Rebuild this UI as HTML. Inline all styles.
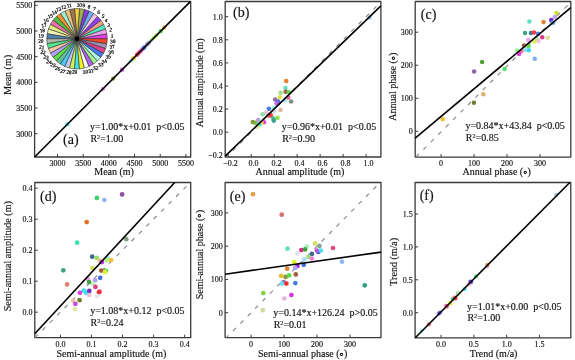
<!DOCTYPE html><html><head><meta charset="utf-8"><style>html,body{margin:0;padding:0;background:#fff;}svg{display:block;filter:blur(0.3px);}text{font-family:"Liberation Serif",serif;fill:#111;stroke:#111;stroke-width:0.15px;}</style></head><body>
<svg width="575" height="360" viewBox="0 0 575 360">
<rect x="34.6" y="1.5" width="156.10" height="155.50" fill="none" stroke="#3a3a3a" stroke-width="1.3" stroke-linejoin="round"/>
<line x1="57.50" y1="157.0" x2="57.50" y2="154.0" stroke="#3a3a3a" stroke-width="1"/>
<text x="57.50" y="165.50" font-size="8" text-anchor="middle">3000</text>
<line x1="83.18" y1="157.0" x2="83.18" y2="154.0" stroke="#3a3a3a" stroke-width="1"/>
<text x="83.18" y="165.50" font-size="8" text-anchor="middle">3500</text>
<line x1="108.86" y1="157.0" x2="108.86" y2="154.0" stroke="#3a3a3a" stroke-width="1"/>
<text x="108.86" y="165.50" font-size="8" text-anchor="middle">4000</text>
<line x1="134.54" y1="157.0" x2="134.54" y2="154.0" stroke="#3a3a3a" stroke-width="1"/>
<text x="134.54" y="165.50" font-size="8" text-anchor="middle">4500</text>
<line x1="160.22" y1="157.0" x2="160.22" y2="154.0" stroke="#3a3a3a" stroke-width="1"/>
<text x="160.22" y="165.50" font-size="8" text-anchor="middle">5000</text>
<line x1="185.90" y1="157.0" x2="185.90" y2="154.0" stroke="#3a3a3a" stroke-width="1"/>
<text x="185.90" y="165.50" font-size="8" text-anchor="middle">5500</text>
<line x1="34.6" y1="133.70" x2="37.6" y2="133.70" stroke="#3a3a3a" stroke-width="1"/>
<text x="32.20" y="136.60" font-size="8" text-anchor="end">3000</text>
<line x1="34.6" y1="108.02" x2="37.6" y2="108.02" stroke="#3a3a3a" stroke-width="1"/>
<text x="32.20" y="110.92" font-size="8" text-anchor="end">3500</text>
<line x1="34.6" y1="82.34" x2="37.6" y2="82.34" stroke="#3a3a3a" stroke-width="1"/>
<text x="32.20" y="85.24" font-size="8" text-anchor="end">4000</text>
<line x1="34.6" y1="56.66" x2="37.6" y2="56.66" stroke="#3a3a3a" stroke-width="1"/>
<text x="32.20" y="59.56" font-size="8" text-anchor="end">4500</text>
<line x1="34.6" y1="30.98" x2="37.6" y2="30.98" stroke="#3a3a3a" stroke-width="1"/>
<text x="32.20" y="33.88" font-size="8" text-anchor="end">5000</text>
<line x1="34.6" y1="5.30" x2="37.6" y2="5.30" stroke="#3a3a3a" stroke-width="1"/>
<text x="32.20" y="8.20" font-size="8" text-anchor="end">5500</text>
<rect x="225.2" y="1.5" width="155.70" height="155.50" fill="none" stroke="#3a3a3a" stroke-width="1.3" stroke-linejoin="round"/>
<line x1="228.22" y1="157.0" x2="228.22" y2="154.0" stroke="#3a3a3a" stroke-width="1"/>
<text x="230.52" y="165.50" font-size="8" text-anchor="middle">−0.2</text>
<line x1="251.20" y1="157.0" x2="251.20" y2="154.0" stroke="#3a3a3a" stroke-width="1"/>
<text x="253.50" y="165.50" font-size="8" text-anchor="middle">0.0</text>
<line x1="274.18" y1="157.0" x2="274.18" y2="154.0" stroke="#3a3a3a" stroke-width="1"/>
<text x="276.48" y="165.50" font-size="8" text-anchor="middle">0.2</text>
<line x1="297.16" y1="157.0" x2="297.16" y2="154.0" stroke="#3a3a3a" stroke-width="1"/>
<text x="299.46" y="165.50" font-size="8" text-anchor="middle">0.4</text>
<line x1="320.14" y1="157.0" x2="320.14" y2="154.0" stroke="#3a3a3a" stroke-width="1"/>
<text x="322.44" y="165.50" font-size="8" text-anchor="middle">0.6</text>
<line x1="343.12" y1="157.0" x2="343.12" y2="154.0" stroke="#3a3a3a" stroke-width="1"/>
<text x="345.42" y="165.50" font-size="8" text-anchor="middle">0.8</text>
<line x1="366.10" y1="157.0" x2="366.10" y2="154.0" stroke="#3a3a3a" stroke-width="1"/>
<text x="368.40" y="165.50" font-size="8" text-anchor="middle">1.0</text>
<line x1="225.2" y1="155.30" x2="228.2" y2="155.30" stroke="#3a3a3a" stroke-width="1"/>
<text x="222.80" y="158.20" font-size="8" text-anchor="end">−0.2</text>
<line x1="225.2" y1="132.20" x2="228.2" y2="132.20" stroke="#3a3a3a" stroke-width="1"/>
<text x="222.80" y="135.10" font-size="8" text-anchor="end">0.0</text>
<line x1="225.2" y1="109.10" x2="228.2" y2="109.10" stroke="#3a3a3a" stroke-width="1"/>
<text x="222.80" y="112.00" font-size="8" text-anchor="end">0.2</text>
<line x1="225.2" y1="86.00" x2="228.2" y2="86.00" stroke="#3a3a3a" stroke-width="1"/>
<text x="222.80" y="88.90" font-size="8" text-anchor="end">0.4</text>
<line x1="225.2" y1="62.90" x2="228.2" y2="62.90" stroke="#3a3a3a" stroke-width="1"/>
<text x="222.80" y="65.80" font-size="8" text-anchor="end">0.6</text>
<line x1="225.2" y1="39.80" x2="228.2" y2="39.80" stroke="#3a3a3a" stroke-width="1"/>
<text x="222.80" y="42.70" font-size="8" text-anchor="end">0.8</text>
<line x1="225.2" y1="16.70" x2="228.2" y2="16.70" stroke="#3a3a3a" stroke-width="1"/>
<text x="222.80" y="19.60" font-size="8" text-anchor="end">1.0</text>
<rect x="415.2" y="1.5" width="155.60" height="155.60" fill="none" stroke="#3a3a3a" stroke-width="1.3" stroke-linejoin="round"/>
<line x1="441.10" y1="157.1" x2="441.10" y2="154.1" stroke="#3a3a3a" stroke-width="1"/>
<text x="441.10" y="165.60" font-size="8" text-anchor="middle">0</text>
<line x1="474.07" y1="157.1" x2="474.07" y2="154.1" stroke="#3a3a3a" stroke-width="1"/>
<text x="474.07" y="165.60" font-size="8" text-anchor="middle">100</text>
<line x1="507.03" y1="157.1" x2="507.03" y2="154.1" stroke="#3a3a3a" stroke-width="1"/>
<text x="507.03" y="165.60" font-size="8" text-anchor="middle">200</text>
<line x1="540.00" y1="157.1" x2="540.00" y2="154.1" stroke="#3a3a3a" stroke-width="1"/>
<text x="540.00" y="165.60" font-size="8" text-anchor="middle">300</text>
<line x1="415.2" y1="131.30" x2="418.2" y2="131.30" stroke="#3a3a3a" stroke-width="1"/>
<text x="412.80" y="134.20" font-size="8" text-anchor="end">0</text>
<line x1="415.2" y1="98.27" x2="418.2" y2="98.27" stroke="#3a3a3a" stroke-width="1"/>
<text x="412.80" y="101.17" font-size="8" text-anchor="end">100</text>
<line x1="415.2" y1="65.23" x2="418.2" y2="65.23" stroke="#3a3a3a" stroke-width="1"/>
<text x="412.80" y="68.13" font-size="8" text-anchor="end">200</text>
<line x1="415.2" y1="32.20" x2="418.2" y2="32.20" stroke="#3a3a3a" stroke-width="1"/>
<text x="412.80" y="35.10" font-size="8" text-anchor="end">300</text>
<rect x="34.8" y="182.5" width="155.90" height="155.20" fill="none" stroke="#3a3a3a" stroke-width="1.3" stroke-linejoin="round"/>
<line x1="60.40" y1="337.7" x2="60.40" y2="334.7" stroke="#3a3a3a" stroke-width="1"/>
<text x="60.40" y="346.90" font-size="8" text-anchor="middle">0.0</text>
<line x1="91.47" y1="337.7" x2="91.47" y2="334.7" stroke="#3a3a3a" stroke-width="1"/>
<text x="91.47" y="346.90" font-size="8" text-anchor="middle">0.1</text>
<line x1="122.55" y1="337.7" x2="122.55" y2="334.7" stroke="#3a3a3a" stroke-width="1"/>
<text x="122.55" y="346.90" font-size="8" text-anchor="middle">0.2</text>
<line x1="153.62" y1="337.7" x2="153.62" y2="334.7" stroke="#3a3a3a" stroke-width="1"/>
<text x="153.62" y="346.90" font-size="8" text-anchor="middle">0.3</text>
<line x1="184.70" y1="337.7" x2="184.70" y2="334.7" stroke="#3a3a3a" stroke-width="1"/>
<text x="184.70" y="346.90" font-size="8" text-anchor="middle">0.4</text>
<line x1="34.8" y1="312.20" x2="37.8" y2="312.20" stroke="#3a3a3a" stroke-width="1"/>
<text x="32.40" y="315.10" font-size="8" text-anchor="end">0.0</text>
<line x1="34.8" y1="281.20" x2="37.8" y2="281.20" stroke="#3a3a3a" stroke-width="1"/>
<text x="32.40" y="284.10" font-size="8" text-anchor="end">0.1</text>
<line x1="34.8" y1="250.20" x2="37.8" y2="250.20" stroke="#3a3a3a" stroke-width="1"/>
<text x="32.40" y="253.10" font-size="8" text-anchor="end">0.2</text>
<line x1="34.8" y1="219.20" x2="37.8" y2="219.20" stroke="#3a3a3a" stroke-width="1"/>
<text x="32.40" y="222.10" font-size="8" text-anchor="end">0.3</text>
<line x1="34.8" y1="188.20" x2="37.8" y2="188.20" stroke="#3a3a3a" stroke-width="1"/>
<text x="32.40" y="191.10" font-size="8" text-anchor="end">0.4</text>
<rect x="225.1" y="182.5" width="155.90" height="155.10" fill="none" stroke="#3a3a3a" stroke-width="1.3" stroke-linejoin="round"/>
<line x1="251.10" y1="337.6" x2="251.10" y2="334.6" stroke="#3a3a3a" stroke-width="1"/>
<text x="251.10" y="346.80" font-size="8" text-anchor="middle">0</text>
<line x1="284.07" y1="337.6" x2="284.07" y2="334.6" stroke="#3a3a3a" stroke-width="1"/>
<text x="284.07" y="346.80" font-size="8" text-anchor="middle">100</text>
<line x1="317.03" y1="337.6" x2="317.03" y2="334.6" stroke="#3a3a3a" stroke-width="1"/>
<text x="317.03" y="346.80" font-size="8" text-anchor="middle">200</text>
<line x1="350.00" y1="337.6" x2="350.00" y2="334.6" stroke="#3a3a3a" stroke-width="1"/>
<text x="350.00" y="346.80" font-size="8" text-anchor="middle">300</text>
<line x1="225.1" y1="312.70" x2="228.1" y2="312.70" stroke="#3a3a3a" stroke-width="1"/>
<text x="222.70" y="315.60" font-size="8" text-anchor="end">0</text>
<line x1="225.1" y1="279.43" x2="228.1" y2="279.43" stroke="#3a3a3a" stroke-width="1"/>
<text x="222.70" y="282.33" font-size="8" text-anchor="end">100</text>
<line x1="225.1" y1="246.17" x2="228.1" y2="246.17" stroke="#3a3a3a" stroke-width="1"/>
<text x="222.70" y="249.07" font-size="8" text-anchor="end">200</text>
<line x1="225.1" y1="212.90" x2="228.1" y2="212.90" stroke="#3a3a3a" stroke-width="1"/>
<text x="222.70" y="215.80" font-size="8" text-anchor="end">300</text>
<rect x="415.1" y="182.5" width="155.70" height="155.30" fill="none" stroke="#3a3a3a" stroke-width="1.3" stroke-linejoin="round"/>
<line x1="441.10" y1="337.8" x2="441.10" y2="334.8" stroke="#3a3a3a" stroke-width="1"/>
<text x="441.10" y="347.00" font-size="8" text-anchor="middle">0.0</text>
<line x1="473.87" y1="337.8" x2="473.87" y2="334.8" stroke="#3a3a3a" stroke-width="1"/>
<text x="473.87" y="347.00" font-size="8" text-anchor="middle">0.5</text>
<line x1="506.63" y1="337.8" x2="506.63" y2="334.8" stroke="#3a3a3a" stroke-width="1"/>
<text x="506.63" y="347.00" font-size="8" text-anchor="middle">1.0</text>
<line x1="539.40" y1="337.8" x2="539.40" y2="334.8" stroke="#3a3a3a" stroke-width="1"/>
<text x="539.40" y="347.00" font-size="8" text-anchor="middle">1.5</text>
<line x1="415.1" y1="312.70" x2="418.1" y2="312.70" stroke="#3a3a3a" stroke-width="1"/>
<text x="412.70" y="315.60" font-size="8" text-anchor="end">0.0</text>
<line x1="415.1" y1="279.80" x2="418.1" y2="279.80" stroke="#3a3a3a" stroke-width="1"/>
<text x="412.70" y="282.70" font-size="8" text-anchor="end">0.5</text>
<line x1="415.1" y1="246.90" x2="418.1" y2="246.90" stroke="#3a3a3a" stroke-width="1"/>
<text x="412.70" y="249.80" font-size="8" text-anchor="end">1.0</text>
<line x1="415.1" y1="214.00" x2="418.1" y2="214.00" stroke="#3a3a3a" stroke-width="1"/>
<text x="412.70" y="216.90" font-size="8" text-anchor="end">1.5</text>
<g stroke="#222" stroke-width="0.55" stroke-linejoin="round">
<path d="M77.0,38.75 L107.20,38.75 A30.2,30.2 0 0 0 106.79,33.78 Z" fill="#e040e8"/>
<path d="M77.0,38.75 L106.79,33.78 A30.2,30.2 0 0 0 105.56,28.94 Z" fill="#f0a0f0"/>
<path d="M77.0,38.75 L105.56,28.94 A30.2,30.2 0 0 0 103.56,24.38 Z" fill="#50e8c0"/>
<path d="M77.0,38.75 L103.56,24.38 A30.2,30.2 0 0 0 100.83,20.20 Z" fill="#f0a080"/>
<path d="M77.0,38.75 L100.83,20.20 A30.2,30.2 0 0 0 97.45,16.53 Z" fill="#9040f0"/>
<path d="M77.0,38.75 L97.45,16.53 A30.2,30.2 0 0 0 93.52,13.47 Z" fill="#f8c8e8"/>
<path d="M77.0,38.75 L93.52,13.47 A30.2,30.2 0 0 0 89.13,11.09 Z" fill="#70b0f0"/>
<path d="M77.0,38.75 L89.13,11.09 A30.2,30.2 0 0 0 84.41,9.47 Z" fill="#8040e0"/>
<path d="M77.0,38.75 L84.41,9.47 A30.2,30.2 0 0 0 79.49,8.65 Z" fill="#a0b050"/>
<path d="M77.0,38.75 L79.49,8.65 A30.2,30.2 0 0 0 74.51,8.65 Z" fill="#f5d040"/>
<path d="M77.0,38.75 L74.51,8.65 A30.2,30.2 0 0 0 69.59,9.47 Z" fill="#a07850"/>
<path d="M77.0,38.75 L69.59,9.47 A30.2,30.2 0 0 0 64.87,11.09 Z" fill="#f0c080"/>
<path d="M77.0,38.75 L64.87,11.09 A30.2,30.2 0 0 0 60.48,13.47 Z" fill="#a0f0d0"/>
<path d="M77.0,38.75 L60.48,13.47 A30.2,30.2 0 0 0 56.55,16.53 Z" fill="#f09030"/>
<path d="M77.0,38.75 L56.55,16.53 A30.2,30.2 0 0 0 53.17,20.20 Z" fill="#50c040"/>
<path d="M77.0,38.75 L53.17,20.20 A30.2,30.2 0 0 0 50.44,24.38 Z" fill="#f070b0"/>
<path d="M77.0,38.75 L50.44,24.38 A30.2,30.2 0 0 0 48.44,28.94 Z" fill="#e0f080"/>
<path d="M77.0,38.75 L48.44,28.94 A30.2,30.2 0 0 0 47.21,33.78 Z" fill="#f0f0b0"/>
<path d="M77.0,38.75 L47.21,33.78 A30.2,30.2 0 0 0 46.80,38.75 Z" fill="#5080b0"/>
<path d="M77.0,38.75 L46.80,38.75 A30.2,30.2 0 0 0 47.21,43.72 Z" fill="#b0b8a8"/>
<path d="M77.0,38.75 L47.21,43.72 A30.2,30.2 0 0 0 48.44,48.56 Z" fill="#50e890"/>
<path d="M77.0,38.75 L48.44,48.56 A30.2,30.2 0 0 0 50.44,53.12 Z" fill="#f8c8a0"/>
<path d="M77.0,38.75 L50.44,53.12 A30.2,30.2 0 0 0 53.17,57.30 Z" fill="#b0a0f8"/>
<path d="M77.0,38.75 L53.17,57.30 A30.2,30.2 0 0 0 56.55,60.97 Z" fill="#60e040"/>
<path d="M77.0,38.75 L56.55,60.97 A30.2,30.2 0 0 0 60.48,64.03 Z" fill="#60c0a0"/>
<path d="M77.0,38.75 L60.48,64.03 A30.2,30.2 0 0 0 64.87,66.41 Z" fill="#50c8f0"/>
<path d="M77.0,38.75 L64.87,66.41 A30.2,30.2 0 0 0 69.59,68.03 Z" fill="#c0c8f8"/>
<path d="M77.0,38.75 L69.59,68.03 A30.2,30.2 0 0 0 74.51,68.85 Z" fill="#d0f050"/>
<path d="M77.0,38.75 L74.51,68.85 A30.2,30.2 0 0 0 79.49,68.85 Z" fill="#40e0f0"/>
<path d="M77.0,38.75 L79.49,68.85 A30.2,30.2 0 0 0 84.41,68.03 Z" fill="#f0f020"/>
<path d="M77.0,38.75 L84.41,68.03 A30.2,30.2 0 0 0 89.13,66.41 Z" fill="#ffffff"/>
<path d="M77.0,38.75 L89.13,66.41 A30.2,30.2 0 0 0 93.52,64.03 Z" fill="#b060f0"/>
<path d="M77.0,38.75 L93.52,64.03 A30.2,30.2 0 0 0 97.45,60.97 Z" fill="#a0f090"/>
<path d="M77.0,38.75 L97.45,60.97 A30.2,30.2 0 0 0 100.83,57.30 Z" fill="#b0f0e0"/>
<path d="M77.0,38.75 L100.83,57.30 A30.2,30.2 0 0 0 103.56,53.12 Z" fill="#4878f0"/>
<path d="M77.0,38.75 L103.56,53.12 A30.2,30.2 0 0 0 105.56,48.56 Z" fill="#e84090"/>
<path d="M77.0,38.75 L105.56,48.56 A30.2,30.2 0 0 0 106.79,43.72 Z" fill="#a090b8"/>
<path d="M77.0,38.75 L106.79,43.72 A30.2,30.2 0 0 0 107.20,38.75 Z" fill="#f04828"/>
</g>
<circle cx="77.0" cy="38.75" r="2.3" fill="#000"/>
<text transform="translate(112,36) rotate(2.3)" y="1.8" font-size="5.2" text-anchor="middle" style="stroke-width:0.25px">1</text>
<text transform="translate(110.8,29.6) rotate(7.6)" y="1.8" font-size="5.2" text-anchor="middle" style="stroke-width:0.25px">2</text>
<text transform="translate(108.7,25.3) rotate(10.8)" y="1.8" font-size="5.2" text-anchor="middle" style="stroke-width:0.25px">3</text>
<text transform="translate(106.3,20.4) rotate(13.5)" y="1.8" font-size="5.2" text-anchor="middle" style="stroke-width:0.25px">4</text>
<text transform="translate(103.3,16) rotate(14.8)" y="1.8" font-size="5.2" text-anchor="middle" style="stroke-width:0.25px">5</text>
<text transform="translate(98.6,12) rotate(14.7)" y="1.8" font-size="5.2" text-anchor="middle" style="stroke-width:0.25px">6</text>
<text transform="translate(94.4,8.9) rotate(13.1)" y="1.8" font-size="5.2" text-anchor="middle" style="stroke-width:0.25px">7</text>
<text transform="translate(89.1,6.7) rotate(9.9)" y="1.8" font-size="5.2" text-anchor="middle" style="stroke-width:0.25px">8</text>
<text transform="translate(83.8,5.3) rotate(5.9)" y="1.8" font-size="5.2" text-anchor="middle" style="stroke-width:0.25px">9</text>
<text transform="translate(79.3,5.0) rotate(2.0)" y="1.8" font-size="5.2" text-anchor="middle" style="stroke-width:0.25px">10</text>
<text transform="translate(69.2,5.5) rotate(-6.7)" y="1.8" font-size="5.2" text-anchor="middle" style="stroke-width:0.25px">11</text>
<text transform="translate(63.7,7.1) rotate(-10.7)" y="1.8" font-size="5.2" text-anchor="middle" style="stroke-width:0.25px">12</text>
<text transform="translate(58.7,9.2) rotate(-13.4)" y="1.8" font-size="5.2" text-anchor="middle" style="stroke-width:0.25px">13</text>
<text transform="translate(54.2,12.4) rotate(-14.8)" y="1.8" font-size="5.2" text-anchor="middle" style="stroke-width:0.25px">14</text>
<text transform="translate(50.2,16) rotate(-14.8)" y="1.8" font-size="5.2" text-anchor="middle" style="stroke-width:0.25px">15</text>
<text transform="translate(46.2,20.4) rotate(-13.2)" y="1.8" font-size="5.2" text-anchor="middle" style="stroke-width:0.25px">16</text>
<text transform="translate(44,25.3) rotate(-10.5)" y="1.8" font-size="5.2" text-anchor="middle" style="stroke-width:0.25px">17</text>
<text transform="translate(42.3,30.5) rotate(-6.8)" y="1.8" font-size="5.2" text-anchor="middle" style="stroke-width:0.25px">18</text>
<text transform="translate(41.1,35.8) rotate(-2.4)" y="1.8" font-size="5.2" text-anchor="middle" style="stroke-width:0.25px">19</text>
<text transform="translate(40.8,40.9) rotate(1.8)" y="1.8" font-size="5.2" text-anchor="middle" style="stroke-width:0.25px">20</text>
<text transform="translate(41.8,47.1) rotate(6.7)" y="1.8" font-size="5.2" text-anchor="middle" style="stroke-width:0.25px">21</text>
<text transform="translate(43.1,52.2) rotate(10.3)" y="1.8" font-size="5.2" text-anchor="middle" style="stroke-width:0.25px">22</text>
<text transform="translate(46.2,57.3) rotate(13.3)" y="1.8" font-size="5.2" text-anchor="middle" style="stroke-width:0.25px">23</text>
<text transform="translate(48.9,61.8) rotate(14.7)" y="1.8" font-size="5.2" text-anchor="middle" style="stroke-width:0.25px">24</text>
<text transform="translate(53.3,64.9) rotate(14.9)" y="1.8" font-size="5.2" text-anchor="middle" style="stroke-width:0.25px">25</text>
<text transform="translate(57.8,68.4) rotate(13.7)" y="1.8" font-size="5.2" text-anchor="middle" style="stroke-width:0.25px">26</text>
<text transform="translate(62.8,71.3) rotate(11.0)" y="1.8" font-size="5.2" text-anchor="middle" style="stroke-width:0.25px">27</text>
<text transform="translate(69.0,72.1) rotate(6.8)" y="1.8" font-size="5.2" text-anchor="middle" style="stroke-width:0.25px">28</text>
<text transform="translate(74.6,71.9) rotate(2.2)" y="1.8" font-size="5.2" text-anchor="middle" style="stroke-width:0.25px">29</text>
<text transform="translate(85.4,71.8) rotate(-7.2)" y="1.8" font-size="5.2" text-anchor="middle" style="stroke-width:0.25px">30</text>
<text transform="translate(90.9,70.8) rotate(-11.0)" y="1.8" font-size="5.2" text-anchor="middle" style="stroke-width:0.25px">31</text>
<text transform="translate(95.6,68.0) rotate(-13.6)" y="1.8" font-size="5.2" text-anchor="middle" style="stroke-width:0.25px">32</text>
<text transform="translate(100.8,64.7) rotate(-14.9)" y="1.8" font-size="5.2" text-anchor="middle" style="stroke-width:0.25px">33</text>
<text transform="translate(104.4,61.3) rotate(-14.7)" y="1.8" font-size="5.2" text-anchor="middle" style="stroke-width:0.25px">34</text>
<text transform="translate(108.4,56.7) rotate(-12.9)" y="1.8" font-size="5.2" text-anchor="middle" style="stroke-width:0.25px">35</text>
<text transform="translate(111.1,52) rotate(-10.1)" y="1.8" font-size="5.2" text-anchor="middle" style="stroke-width:0.25px">36</text>
<text transform="translate(112,46.7) rotate(-6.5)" y="1.8" font-size="5.2" text-anchor="middle" style="stroke-width:0.25px">37</text>
<text transform="translate(112.9,41.3) rotate(-2.1)" y="1.8" font-size="5.2" text-anchor="middle" style="stroke-width:0.25px">38</text>
<line x1="226.5" y1="157.0" x2="380.9" y2="1.9" stroke="#888" stroke-width="1.15" stroke-dasharray="4.3,6.2" stroke-dashoffset="1.7" stroke-linecap="butt"/>
<line x1="415.9" y1="157.0" x2="570.8" y2="2.2" stroke="#888" stroke-width="1.15" stroke-dasharray="4.3,6.2" stroke-linecap="butt"/>
<line x1="34.8" y1="337.7" x2="190.3" y2="182.5" stroke="#888" stroke-width="1.15" stroke-dasharray="4.3,6.2" stroke-linecap="butt"/>
<line x1="226.4" y1="337.6" x2="380.1" y2="182.5" stroke="#888" stroke-width="1.15" stroke-dasharray="4.3,6.2" stroke-dashoffset="1.2" stroke-linecap="butt"/>
<circle cx="67.34" cy="124.34" r="2.2" fill="#40d8f0" fill-opacity="0.9"/>
<circle cx="102.76" cy="88.96" r="2.2" fill="#e890e8" fill-opacity="0.9"/>
<circle cx="113.23" cy="78.43" r="2.2" fill="#90a040" fill-opacity="0.9"/>
<circle cx="122.07" cy="69.67" r="2.2" fill="#e040e0" fill-opacity="0.9"/>
<circle cx="131.48" cy="60.38" r="2.2" fill="#a0f0f0" fill-opacity="0.9"/>
<circle cx="133.39" cy="58.19" r="2.2" fill="#f0a050" fill-opacity="0.9"/>
<circle cx="133.99" cy="57.99" r="2.2" fill="#f0e040" fill-opacity="0.9"/>
<circle cx="136.84" cy="54.84" r="2.2" fill="#f04060" fill-opacity="0.9"/>
<circle cx="138.22" cy="53.43" r="2.2" fill="#f04040" fill-opacity="0.9"/>
<circle cx="139.84" cy="51.84" r="2.2" fill="#e84090" fill-opacity="0.9"/>
<circle cx="141.11" cy="50.51" r="2.2" fill="#f060c0" fill-opacity="0.9"/>
<circle cx="142.97" cy="48.67" r="2.2" fill="#a060e0" fill-opacity="0.9"/>
<circle cx="144.41" cy="47.22" r="2.2" fill="#4070f0" fill-opacity="0.9"/>
<circle cx="147.27" cy="44.27" r="2.2" fill="#9080b0" fill-opacity="0.9"/>
<circle cx="149.07" cy="42.47" r="2.2" fill="#b0a0e0" fill-opacity="0.9"/>
<circle cx="151.27" cy="40.28" r="2.2" fill="#c0f0c0" fill-opacity="0.9"/>
<circle cx="153.86" cy="37.77" r="2.2" fill="#c0f060" fill-opacity="0.9"/>
<circle cx="156.41" cy="35.31" r="2.2" fill="#a0f080" fill-opacity="0.9"/>
<circle cx="160.79" cy="30.99" r="2.2" fill="#40e040" fill-opacity="0.9"/>
<circle cx="164.22" cy="27.52" r="2.2" fill="#f0a050" fill-opacity="0.9"/>
<circle cx="286.2" cy="81.0" r="2.3" fill="#e88030"/>
<circle cx="285.4" cy="88.0" r="2.3" fill="#60e0c0"/>
<circle cx="280.6" cy="92.8" r="2.3" fill="#a0e090"/>
<circle cx="285.7" cy="91.75" r="2.3" fill="#a06040"/>
<circle cx="288.9" cy="92.3" r="2.3" fill="#50e050"/>
<circle cx="279.8" cy="97.2" r="2.3" fill="#e0e050"/>
<circle cx="288.2" cy="97.6" r="2.3" fill="#f060a0"/>
<circle cx="275.2" cy="99.5" r="2.3" fill="#9070a0"/>
<circle cx="285.0" cy="100.3" r="2.3" fill="#a0f0f0"/>
<circle cx="291.1" cy="101.5" r="2.3" fill="#809080"/>
<circle cx="278.1" cy="101.5" r="2.3" fill="#5070e0"/>
<circle cx="276.7" cy="103.4" r="2.3" fill="#c060f0"/>
<circle cx="268.9" cy="108.8" r="2.3" fill="#4080e0"/>
<circle cx="273.6" cy="107.8" r="2.3" fill="#a0f0f0"/>
<circle cx="280.5" cy="110.0" r="2.3" fill="#e0b8a0"/>
<circle cx="274.6" cy="111.3" r="2.3" fill="#d8dcdc"/>
<circle cx="266.3" cy="112.6" r="2.3" fill="#f0c0e0"/>
<circle cx="262.7" cy="114.2" r="2.3" fill="#90e0a0"/>
<circle cx="268.8" cy="115.8" r="2.3" fill="#f07090"/>
<circle cx="270.8" cy="115.4" r="2.3" fill="#f04040"/>
<circle cx="273.3" cy="118.6" r="2.3" fill="#40c090"/>
<circle cx="277.5" cy="117.9" r="2.3" fill="#90e050"/>
<circle cx="273.8" cy="120.6" r="2.3" fill="#40a090"/>
<circle cx="255.4" cy="122.7" r="2.3" fill="#70c040"/>
<circle cx="252.8" cy="122.0" r="2.3" fill="#8a9a3a"/>
<circle cx="258.2" cy="120.0" r="2.3" fill="#b8a0e0"/>
<circle cx="264.0" cy="122.3" r="2.3" fill="#e040e0"/>
<circle cx="261.4" cy="123.1" r="2.3" fill="#f0e020"/>
<circle cx="259.3" cy="124.6" r="2.3" fill="#40e0f0"/>
<circle cx="257.5" cy="127.0" r="2.3" fill="#e8e8a0"/>
<circle cx="369.5" cy="17.5" r="2.3" fill="#a0c8f0"/>
<circle cx="556.5" cy="13.1" r="2.25" fill="#d0e030"/>
<circle cx="554.75" cy="16.9" r="2.25" fill="#c0a8f0"/>
<circle cx="551.25" cy="20.0" r="2.25" fill="#7030d0"/>
<circle cx="553.1" cy="22.75" r="2.25" fill="#60b0f0"/>
<circle cx="543.5" cy="21.9" r="2.25" fill="#e08030"/>
<circle cx="529.4" cy="21.6" r="2.25" fill="#60e0c0"/>
<circle cx="525.0" cy="33.1" r="2.25" fill="#40a080"/>
<circle cx="530.9" cy="32.9" r="2.25" fill="#407898"/>
<circle cx="534.0" cy="32.6" r="2.25" fill="#f04040"/>
<circle cx="538.0" cy="33.8" r="2.25" fill="#5080f0"/>
<circle cx="542.25" cy="37.25" r="2.25" fill="#e03890"/>
<circle cx="547.75" cy="37.75" r="2.25" fill="#e0e0a0"/>
<circle cx="528.3" cy="40.1" r="2.25" fill="#f0a0f0"/>
<circle cx="537.5" cy="39.4" r="2.25" fill="#b0e890"/>
<circle cx="538.5" cy="41.0" r="2.25" fill="#f0c0e0"/>
<circle cx="534.4" cy="41.5" r="2.25" fill="#e0f050"/>
<circle cx="524.0" cy="45.6" r="2.25" fill="#a06040"/>
<circle cx="528.5" cy="46.0" r="2.25" fill="#60e040"/>
<circle cx="525.0" cy="50.0" r="2.25" fill="#a0e0f0"/>
<circle cx="528.75" cy="50.25" r="2.25" fill="#40d0f0"/>
<circle cx="521.25" cy="51.25" r="2.25" fill="#f070a0"/>
<circle cx="516.9" cy="50.6" r="2.25" fill="#a0f090"/>
<circle cx="519.0" cy="54.0" r="2.25" fill="#e040e0"/>
<circle cx="534.75" cy="58.75" r="2.25" fill="#80b0f0"/>
<circle cx="504.6" cy="69.1" r="2.25" fill="#50e070"/>
<circle cx="482.1" cy="61.9" r="2.25" fill="#50a030"/>
<circle cx="474.1" cy="71.5" r="2.25" fill="#9060b0"/>
<circle cx="483.3" cy="94.3" r="2.25" fill="#e0b070"/>
<circle cx="473.9" cy="102.75" r="2.25" fill="#708030"/>
<circle cx="442.7" cy="119.3" r="2.25" fill="#f0c030"/>
<circle cx="122.1" cy="194.4" r="2.35" fill="#9050a0"/>
<circle cx="96.9" cy="197.9" r="2.35" fill="#40d070"/>
<circle cx="104.4" cy="200.0" r="2.35" fill="#90b8f0"/>
<circle cx="86.7" cy="222.1" r="2.35" fill="#e07020"/>
<circle cx="77.1" cy="242.7" r="2.35" fill="#40e0b0"/>
<circle cx="126.25" cy="239.2" r="2.35" fill="#80a080"/>
<circle cx="92.2" cy="256.7" r="2.35" fill="#406890"/>
<circle cx="96.7" cy="257.8" r="2.35" fill="#90e060"/>
<circle cx="99.7" cy="260.6" r="2.35" fill="#f0c090"/>
<circle cx="101.9" cy="262.2" r="2.35" fill="#c040f0"/>
<circle cx="107.8" cy="258.1" r="2.35" fill="#a0f0f0"/>
<circle cx="106.7" cy="260.3" r="2.35" fill="#b0f080"/>
<circle cx="111.1" cy="260.0" r="2.35" fill="#f0c030"/>
<circle cx="63.3" cy="270.3" r="2.35" fill="#40a080"/>
<circle cx="92.4" cy="268.1" r="2.35" fill="#d0e050"/>
<circle cx="101.3" cy="270.6" r="2.35" fill="#a06040"/>
<circle cx="105.8" cy="270.8" r="2.35" fill="#50e040"/>
<circle cx="104.9" cy="272.2" r="2.35" fill="#e0f040"/>
<circle cx="100.2" cy="277.8" r="2.35" fill="#4070e0"/>
<circle cx="67.1" cy="284.4" r="2.35" fill="#e08070"/>
<circle cx="88.0" cy="278.9" r="2.35" fill="#f0a0e8"/>
<circle cx="89.1" cy="282.0" r="2.35" fill="#40a040"/>
<circle cx="95.1" cy="280.2" r="2.35" fill="#b0a0f0"/>
<circle cx="93.2" cy="284.2" r="2.35" fill="#c0f0c0"/>
<circle cx="95.4" cy="286.9" r="2.35" fill="#e04080"/>
<circle cx="79.9" cy="292.8" r="2.35" fill="#e040e0"/>
<circle cx="84.0" cy="290.6" r="2.35" fill="#40e0f0"/>
<circle cx="86.0" cy="292.8" r="2.35" fill="#40e0f0"/>
<circle cx="89.3" cy="290.9" r="2.35" fill="#7030c0"/>
<circle cx="99.6" cy="291.6" r="2.35" fill="#f060a0"/>
<circle cx="99.0" cy="292.2" r="2.35" fill="#f03030"/>
<circle cx="89.3" cy="295.0" r="2.35" fill="#f0c0d8"/>
<circle cx="97.1" cy="296.1" r="2.35" fill="#e0e8e8"/>
<circle cx="73.2" cy="300.9" r="2.35" fill="#f0c0a0"/>
<circle cx="79.6" cy="300.2" r="2.35" fill="#708030"/>
<circle cx="75.4" cy="303.9" r="2.35" fill="#c050e0"/>
<circle cx="74.9" cy="309.1" r="2.35" fill="#e0e8a0"/>
<circle cx="253.0" cy="194.2" r="2.35" fill="#e0a050"/>
<circle cx="281.7" cy="214.7" r="2.35" fill="#d87070"/>
<circle cx="287.5" cy="248.7" r="2.35" fill="#60e0c0"/>
<circle cx="315.0" cy="243.4" r="2.35" fill="#d8e060"/>
<circle cx="319.4" cy="245.9" r="2.35" fill="#8aa090"/>
<circle cx="306.8" cy="246.4" r="2.35" fill="#b0f0c0"/>
<circle cx="301.3" cy="250.0" r="2.35" fill="#e02890"/>
<circle cx="305.1" cy="249.4" r="2.35" fill="#40a040"/>
<circle cx="318.3" cy="252.0" r="2.35" fill="#4060e0"/>
<circle cx="316.9" cy="250.6" r="2.35" fill="#c050e0"/>
<circle cx="320.9" cy="250.6" r="2.35" fill="#50e0f0"/>
<circle cx="297.5" cy="253.5" r="2.35" fill="#e0e0e0"/>
<circle cx="311.9" cy="253.9" r="2.35" fill="#406890"/>
<circle cx="308.4" cy="256.8" r="2.35" fill="#a0e080"/>
<circle cx="311.9" cy="258.5" r="2.35" fill="#f080d0"/>
<circle cx="304.3" cy="259.4" r="2.35" fill="#a0e0f0"/>
<circle cx="294.2" cy="262.2" r="2.35" fill="#e0f020"/>
<circle cx="297.4" cy="266.0" r="2.35" fill="#a020e0"/>
<circle cx="303.7" cy="264.8" r="2.35" fill="#4070e0"/>
<circle cx="295.2" cy="267.9" r="2.35" fill="#b0a0f0"/>
<circle cx="287.2" cy="268.7" r="2.35" fill="#e08030"/>
<circle cx="281.1" cy="275.8" r="2.35" fill="#e0c030"/>
<circle cx="285.6" cy="276.9" r="2.35" fill="#909040"/>
<circle cx="289.1" cy="275.3" r="2.35" fill="#50e040"/>
<circle cx="295.8" cy="274.4" r="2.35" fill="#a06040"/>
<circle cx="283.6" cy="282.0" r="2.35" fill="#9070b0"/>
<circle cx="282.0" cy="283.6" r="2.35" fill="#60e0f0"/>
<circle cx="286.4" cy="283.6" r="2.35" fill="#f03030"/>
<circle cx="295.3" cy="283.1" r="2.35" fill="#4080e0"/>
<circle cx="291.4" cy="295.0" r="2.35" fill="#e030e0"/>
<circle cx="284.3" cy="298.5" r="2.35" fill="#e0b8e0"/>
<circle cx="263.3" cy="293.1" r="2.35" fill="#80d040"/>
<circle cx="262.8" cy="310.2" r="2.35" fill="#d0d8a0"/>
<circle cx="333.0" cy="248.0" r="2.35" fill="#e04880"/>
<circle cx="342.0" cy="261.7" r="2.35" fill="#90b8f0"/>
<circle cx="364.8" cy="285.3" r="2.35" fill="#30a080"/>
<circle cx="421.76" cy="330.96" r="2.1" fill="#90e8f0" fill-opacity="0.9"/>
<circle cx="429.0" cy="324.3" r="2.1" fill="#f06080" fill-opacity="0.9"/>
<circle cx="438.67" cy="313.67" r="2.1" fill="#a060e0" fill-opacity="0.9"/>
<circle cx="439.95" cy="312.55" r="2.1" fill="#5060e0" fill-opacity="0.9"/>
<circle cx="446.32" cy="305.92" r="2.1" fill="#f040b0" fill-opacity="0.9"/>
<circle cx="447.0" cy="306.6" r="2.1" fill="#f06090" fill-opacity="0.9"/>
<circle cx="449.54" cy="302.94" r="2.1" fill="#f0f040" fill-opacity="0.9"/>
<circle cx="450.4" cy="303.71" r="2.1" fill="#e8f040" fill-opacity="0.9"/>
<circle cx="452.71" cy="299.11" r="2.1" fill="#40c0a0" fill-opacity="0.9"/>
<circle cx="454.9" cy="297.6" r="2.1" fill="#f04040" fill-opacity="0.9"/>
<circle cx="455.52" cy="298.42" r="2.1" fill="#f04040" fill-opacity="0.9"/>
<circle cx="458.0" cy="293.29" r="2.1" fill="#60d0a0" fill-opacity="0.9"/>
<circle cx="458.76" cy="293.76" r="2.1" fill="#e0f0a0" fill-opacity="0.9"/>
<circle cx="464.7" cy="289.21" r="2.1" fill="#40e0f0" fill-opacity="0.9"/>
<circle cx="468.65" cy="284.65" r="2.1" fill="#f0c0d0" fill-opacity="0.9"/>
<circle cx="470.42" cy="281.71" r="2.1" fill="#6030e0" fill-opacity="0.9"/>
<circle cx="471.24" cy="282.04" r="2.1" fill="#7040d8" fill-opacity="0.9"/>
<circle cx="475.96" cy="276.35" r="2.1" fill="#40e080" fill-opacity="0.9"/>
<circle cx="487.18" cy="265.98" r="2.1" fill="#e050e0" fill-opacity="0.9"/>
<circle cx="487.29" cy="264.79" r="2.1" fill="#f0a040" fill-opacity="0.9"/>
<circle cx="556.32" cy="194.82" r="2.1" fill="#90c0f0" fill-opacity="0.9"/>
<line x1="34.6" y1="157.0" x2="190.3" y2="1.6" stroke="#000" stroke-width="1.6" stroke-linecap="butt"/>
<line x1="225.2" y1="156.2" x2="380.9" y2="5.9" stroke="#000" stroke-width="1.6" stroke-linecap="butt"/>
<line x1="415.2" y1="138.2" x2="570.8" y2="7.7" stroke="#000" stroke-width="1.6" stroke-linecap="butt"/>
<line x1="34.8" y1="333.75" x2="174.7" y2="182.5" stroke="#000" stroke-width="1.6" stroke-linecap="butt"/>
<line x1="225.1" y1="274.2" x2="381.0" y2="252.1" stroke="#000" stroke-width="1.6" stroke-linecap="butt"/>
<line x1="415.3" y1="337.8" x2="569.8" y2="182.5" stroke="#000" stroke-width="1.6" stroke-linecap="butt"/>
<text x="63.0" y="144.4" font-size="14">(a)</text>
<text x="233.0" y="16.9" font-size="14">(b)</text>
<text x="420.8" y="18.5" font-size="14">(c)</text>
<text x="40.0" y="200.8" font-size="14">(d)</text>
<text x="229.8" y="200.9" font-size="14">(e)</text>
<text x="419.7" y="199.7" font-size="14">(f)</text>
<text x="90.0" y="130.1" font-size="10" xml:space="preserve">y=1.00*x+0.01  p&lt;0.05</text>
<text x="90.4" y="141.7" font-size="10">R<tspan font-size="6.2" dy="-3.1">2</tspan><tspan dy="3.1">=1.00</tspan></text>
<text x="281.8" y="130.0" font-size="10" xml:space="preserve">y=0.96*x+0.01  p&lt;0.05</text>
<text x="282.2" y="141.8" font-size="10">R<tspan font-size="6.2" dy="-3.1">2</tspan><tspan dy="3.1">=0.90</tspan></text>
<text x="465.4" y="129.4" font-size="10" xml:space="preserve">y=0.84*x+43.84  p&lt;0.05</text>
<text x="465.79999999999995" y="141.0" font-size="10">R<tspan font-size="6.2" dy="-3.1">2</tspan><tspan dy="3.1">=0.85</tspan></text>
<text x="90.2" y="314.2" font-size="10" xml:space="preserve">y=1.08*x+0.12  p&lt;0.05</text>
<text x="90.60000000000001" y="325.9" font-size="10">R<tspan font-size="6.2" dy="-3.1">2</tspan><tspan dy="3.1">=0.24</tspan></text>
<text x="273.3" y="316.4" font-size="10" xml:space="preserve">y=0.14*x+126.24  p&gt;0.05</text>
<text x="273.7" y="328.0" font-size="10">R<tspan font-size="6.2" dy="-3.1">2</tspan><tspan dy="3.1">=0.01</tspan></text>
<text x="467.0" y="309.8" font-size="10" xml:space="preserve">y=1.01*x+0.00  p&lt;0.05</text>
<text x="467.4" y="321.4" font-size="10">R<tspan font-size="6.2" dy="-3.1">2</tspan><tspan dy="3.1">=1.00</tspan></text>
<text x="114.1" y="175.0" font-size="10" text-anchor="middle">Mean (m)</text>
<text x="299.9" y="175.4" font-size="10" text-anchor="middle">Annual amplitude (m)</text>
<text x="496.7" y="175.3" font-size="10" text-anchor="middle">Annual phase (<tspan font-size="12" dy="0.6" style="stroke-width:0.45px">◦</tspan><tspan dy="-0.6">)</tspan></text>
<text x="111.4" y="357.1" font-size="10" text-anchor="middle">Semi-annual amplitude (m)</text>
<text x="302.6" y="357.1" font-size="10" text-anchor="middle">Semi-annual phase (<tspan font-size="12" dy="0.6" style="stroke-width:0.45px">◦</tspan><tspan dy="-0.6">)</tspan></text>
<text x="493.6" y="356.8" font-size="10" text-anchor="middle">Trend (m/a)</text>
<text transform="translate(11.0,74.8) rotate(-90)" font-size="10" text-anchor="middle">Mean (m)</text>
<text transform="translate(203.0,82.9) rotate(-90)" font-size="10" text-anchor="middle">Annual amplitude (m)</text>
<text transform="translate(396.3,86.65) rotate(-90)" font-size="10" text-anchor="middle">Annual phase (<tspan font-size="12" dy="0.6" style="stroke-width:0.45px">◦</tspan><tspan dy="-0.6">)</tspan></text>
<text transform="translate(10.5,256.25) rotate(-90)" font-size="10" text-anchor="middle">Semi-annual amplitude (m)</text>
<text transform="translate(202.6,254.65) rotate(-90)" font-size="10" text-anchor="middle">Semi-annual phase (<tspan font-size="12" dy="0.6" style="stroke-width:0.45px">◦</tspan><tspan dy="-0.6">)</tspan></text>
<text transform="translate(396.5,261.8) rotate(-90)" font-size="10" text-anchor="middle">Trend (m/a)</text>
</svg></body></html>
